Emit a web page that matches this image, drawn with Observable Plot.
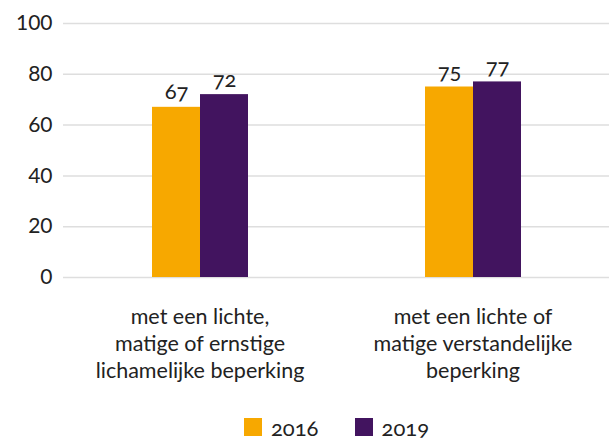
<!DOCTYPE html>
<html>
<head>
<meta charset="utf-8">
<script src="https://cdn.jsdelivr.net/npm/d3@7"></script>
<script src="https://cdn.jsdelivr.net/npm/@observablehq/plot@0.6"></script>
<style>
  body { margin: 0; background: #fff; font-family: Lato, "Open Sans", sans-serif; color: #222; }
  #chart svg { display: block; font-variant-numeric: oldstyle-nums; }
  .legend { display: flex; justify-content: center; align-items: center; padding-left: 63px; width: 547px; height: 30px; font-size: 22px; font-variant-numeric: oldstyle-nums; }
  .legend .item { display: flex; align-items: center; margin: 0 18px; }
  .legend .sw { width: 18px; height: 18px; margin-right: 9px; }
</style>
</head>
<body>
<div id="chart"></div>
<script>
const categories = [
  "met een lichte,\nmatige of ernstige\nlichamelijke beperking",
  "met een lichte of\nmatige verstandelijke\nbeperking"
];
const years = ["2016", "2019"];
const values2016 = [67, 75];
const values2019 = [72, 77];
const colors = ["#f7a800", "#42145f"];
const yTicks = [0, 20, 40, 60, 80, 100];

const data = [];
categories.forEach((c, i) => {
  data.push({cat: c, year: years[0], value: values2016[i]});
  data.push({cat: c, year: years[1], value: values2019[i]});
});

const chart = Plot.plot({
  width: 610,
  height: 412,
  marginLeft: 63,
  marginRight: 1,
  marginTop: 23,
  marginBottom: 135,
  style: {fontFamily: "Lato, 'Open Sans', sans-serif", color: "#222", background: "#fff"},
  fx: {domain: categories, padding: 0, label: null, axis: null},
  x: {domain: years, paddingInner: 0, paddingOuter: 1.83, axis: null},
  y: {domain: [0, 100], label: null, axis: null},
  color: {domain: years, range: colors},
  marks: [
    Plot.ruleY(yTicks, {stroke: "#dedede", strokeWidth: 1.5}),
    Plot.barY(data, {fx: "cat", x: "year", y: "value", fill: "year"}),
    Plot.text(data, {fx: "cat", x: "year", y: "value", text: d => String(d.value), lineAnchor: "bottom", dy: -8, fontSize: 22, fill: "#222"}),
    Plot.axisY(yTicks, {anchor: "left", tickSize: 0, tickPadding: 11, fontSize: 21, fill: "#222", label: null}),
    Plot.axisFx({anchor: "bottom", tickSize: 0, tickPadding: 27, fontSize: 21.5, lineHeight: 1.26, fill: "#222", label: null})
  ]
});
document.getElementById("chart").appendChild(chart);

const legend = document.createElement("div");
legend.className = "legend";
years.forEach((y, i) => {
  const item = document.createElement("div");
  item.className = "item";
  const sw = document.createElement("div");
  sw.className = "sw";
  sw.style.background = colors[i];
  const t = document.createElement("span");
  t.textContent = y;
  item.appendChild(sw);
  item.appendChild(t);
  legend.appendChild(item);
});
document.body.appendChild(legend);
</script>
</body>
</html>
